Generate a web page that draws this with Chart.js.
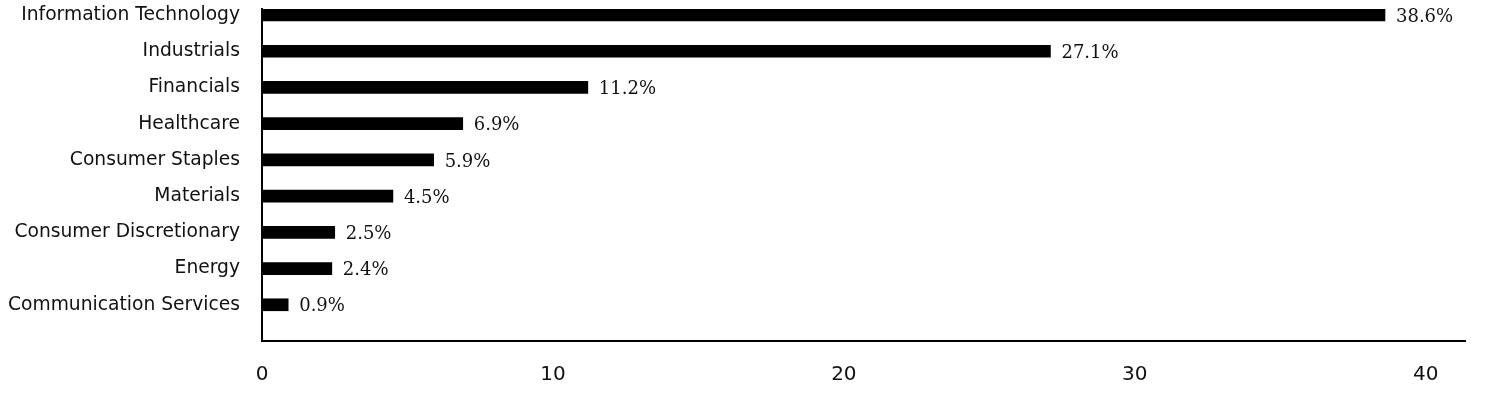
<!DOCTYPE html>
<html>
<head>
<meta charset="utf-8">
<script src="https://cdn.jsdelivr.net/npm/chart.js@4.4.1/dist/chart.umd.min.js"></script>
<style>
html,body{margin:0;padding:0;background:#fff;}
#wrap{width:1500px;height:408px;position:relative;}
</style>
</head>
<body>
<div id="wrap"><canvas id="c" width="1500" height="408"></canvas></div>
<script>
const categories = ["Information Technology","Industrials","Financials","Healthcare","Consumer Staples","Materials","Consumer Discretionary","Energy","Communication Services"];
const weights = [38.6, 27.1, 11.2, 6.9, 5.9, 4.5, 2.5, 2.4, 0.9];
const xTicks = [0, 10, 20, 30, 40];

const points = weights.map((v, i) => ({x: v, y: i}));

const valueLabels = {
  id: 'valueLabels',
  afterDatasetsDraw(chart) {
    const ctx = chart.ctx;
    const meta = chart.getDatasetMeta(0);
    ctx.save();
    ctx.font = '18px "DejaVu Serif", "Liberation Serif", serif';
    ctx.fillStyle = '#111';
    ctx.textAlign = 'left';
    ctx.textBaseline = 'middle';
    meta.data.forEach((bar, i) => {
      ctx.fillText(weights[i].toFixed(1) + '%', bar.x + 11, bar.y + 2);
    });
    ctx.restore();
  }
};

new Chart(document.getElementById('c'), {
  type: 'bar',
  data: {
    datasets: [{
      data: points,
      backgroundColor: '#000',
      borderWidth: 0,
      barThickness: 12
    }]
  },
  options: {
    indexAxis: 'y',
    responsive: false,
    animation: false,
    devicePixelRatio: 1,
    layout: {padding: {top: 9, right: 35, left: 0, bottom: 0}},
    plugins: {legend: {display: false}, tooltip: {enabled: false}},
    scales: {
      x: {
        type: 'linear',
        min: 0,
        max: 41.35,
        afterBuildTicks(scale) { scale.ticks = xTicks.map(v => ({value: v})); },
        afterFit(scale) { scale.height = 67; scale.paddingLeft = 0; scale.paddingRight = 0; },
        grid: {display: false, drawTicks: false},
        border: {display: true, color: '#000', width: 2},
        ticks: {
          padding: 22,
          color: '#111',
          font: {family: '"DejaVu Sans", Verdana, sans-serif', size: 20}
        }
      },
      y: {
        type: 'linear',
        reverse: true,
        offset: false,
        min: -0.1655,
        max: 9,
        afterBuildTicks(scale) { scale.ticks = categories.map((c, i) => ({value: i})); },
        afterFit(scale) { scale.width = 262; scale.paddingTop = 0; scale.paddingBottom = 0; },
        grid: {display: false, drawTicks: false, offset: false},
        border: {display: true, color: '#000', width: 2},
        ticks: {
          padding: 22,
          color: '#111',
          autoSkip: false,
          callback: (v) => categories[v],
          font: {family: '"DejaVu Sans", Verdana, sans-serif', size: 18.7}
        }
      }
    }
  },
  plugins: [valueLabels]
});
</script>
</body>
</html>
